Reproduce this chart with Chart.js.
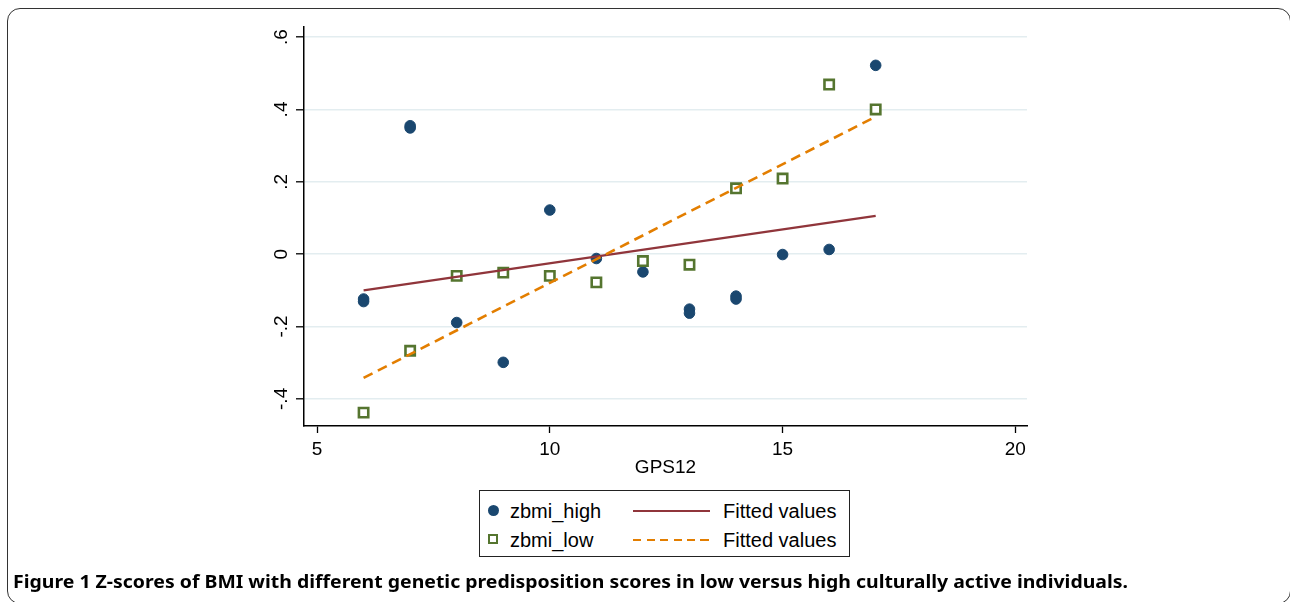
<!DOCTYPE html>
<html>
<head>
<meta charset="utf-8">
<title>Z-scores of BMI by GPS12</title>
<script src="https://cdn.jsdelivr.net/npm/chart.js@4.4.1/dist/chart.umd.min.js"></script>
<style>
    html, body { margin: 0; padding: 0; background: #fff; }
    body { width: 1290px; height: 602px; position: relative; overflow: hidden; font-family: "Liberation Sans", Arial, sans-serif; }
    #frame { position: absolute; left: 7px; top: 8px; width: 1284px; height: 596px; border: 1.5px solid #333; border-radius: 13px; box-sizing: border-box; }
    #wrap { position: absolute; left: 0; top: 0; width: 1290px; height: 602px; }
    #legend { position: absolute; left: 479px; top: 490px; width: 371px; height: 67px; border: 1.5px solid #222; box-sizing: border-box; background: #fff; }
    .item { position: absolute; font-size: 20px; color: #000; line-height: 20px; white-space: nowrap; }
    .mk { position: absolute; }
    #caption { position: absolute; left: 13px; top: 570px; font-family: "Noto Sans", "Open Sans", sans-serif; font-weight: bold; font-size: 17.5px; line-height: 22px; color: #000; white-space: nowrap; transform-origin: 0 0; }
</style>
</head>
<body>
<div id="frame"></div>
<div id="wrap"><canvas id="chart" width="1290" height="602"></canvas></div>
<div id="legend"></div>
<div id="caption"><span>Figure 1</span> Z-scores of BMI with different genetic predisposition scores in low versus high culturally active individuals.</div>

<script>
// ---- data ----
const highX = [6, 6, 7, 7, 8, 9, 10, 11, 12, 13, 13, 14, 14, 15, 16, 17];
const highY = [-0.124, -0.131, 0.355, 0.349, -0.189, -0.299, 0.122, -0.012, -0.049, -0.152, -0.163, -0.116, -0.124, -0.001, 0.013, 0.522];

const lowX = [6, 7, 8, 9, 10, 11, 12, 13, 14, 15, 16, 17];
const lowY = [-0.438, -0.267, -0.060, -0.051, -0.060, -0.078, -0.019, -0.029, 0.182, 0.209, 0.469, 0.400];

// fitted lines (end points)
const fitHighX = [6, 17];
const fitHighY = [-0.100, 0.106];
const fitLowX = [6, 17];
const fitLowY = [-0.342, 0.380];

const xTicks = [5, 10, 15, 20];
const yTicks = [-0.4, -0.2, 0, 0.2, 0.4, 0.6];
const yTickLabels = ['-.4', '-.2', '0', '.2', '.4', '.6'];

const NAVY = '#1a476f';
const MAROON = '#90353b';
const GREEN = '#55752f';
const ORANGE = '#e37e00';
const FONT = '"Liberation Sans", Arial, sans-serif';

function pts(xs, ys) {
    return xs.map((x, i) => ({ x: x, y: ys[i] }));
}

// rotated y tick labels, like Stata draws them
const yLabelsPlugin = {
    id: 'yLabels',
    afterDraw(chart) {
        const ctx = chart.ctx;
        const y = chart.scales.y;
        ctx.save();
        ctx.fillStyle = '#000';
        ctx.font = '19px ' + FONT;
        ctx.textAlign = 'center';
        ctx.textBaseline = 'alphabetic';
        yTicks.forEach((v, i) => {
            const py = y.getPixelForValue(v);
            ctx.save();
            ctx.translate(y.left + 43, py);
            ctx.rotate(-Math.PI / 2);
            ctx.fillText(yTickLabels[i], 0, 0);
            ctx.restore();
        });
        ctx.restore();
    }
};

new Chart(document.getElementById('chart'), {
    type: 'scatter',
    data: {
        datasets: [
            {
                label: 'zbmi_high', data: pts(highX, highY), order: 3,
                pointStyle: 'circle', pointRadius: 5.3, pointHoverRadius: 5.3,
                backgroundColor: NAVY, borderColor: NAVY, borderWidth: 1
            },
            {
                type: 'line', label: 'Fitted values', data: pts(fitHighX, fitHighY), order: 1,
                borderColor: MAROON, borderWidth: 2.2, pointRadius: 0, fill: false, tension: 0
            },
            {
                label: 'zbmi_low', data: pts(lowX, lowY), order: 2,
                pointStyle: 'rect', pointRadius: 6.6, pointHoverRadius: 6.6,
                backgroundColor: '#fff', borderColor: GREEN, borderWidth: 2.6
            },
            {
                type: 'line', label: 'Fitted values', data: pts(fitLowX, fitLowY), order: 0,
                borderColor: ORANGE, borderWidth: 2.6, borderDash: [10, 6], pointRadius: 0, fill: false, tension: 0
            }
        ]
    },
    options: {
        responsive: false,
        animation: false,
        events: [],
        layout: { padding: { left: 244, top: 27, right: 263, bottom: 116 } },
        plugins: { legend: { display: false }, tooltip: { enabled: false }, title: { display: false } },
        scales: {
            x: {
                type: 'linear', min: 4.72, max: 20.25,
                afterBuildTicks: s => { s.ticks = xTicks.map(v => ({ value: v })); },
                afterFit: s => { s.height = 60; },
                grid: { drawOnChartArea: false, drawTicks: true, tickLength: 7, tickColor: '#000', tickWidth: 1.3 },
                border: { color: '#000', width: 1.5 },
                ticks: { color: '#000', font: { size: 19, family: FONT }, padding: 5, maxRotation: 0 },
                title: { display: true, text: 'GPS12', color: '#000', font: { size: 19, family: FONT }, padding: { top: 0, bottom: 7 } }
            },
            y: {
                type: 'linear', min: -0.475, max: 0.628,
                afterBuildTicks: s => { s.ticks = yTicks.map(v => ({ value: v })); },
                afterFit: s => { s.width = 60; },
                grid: { color: '#e3edf0', lineWidth: 1.6, drawTicks: true, tickLength: 8, tickColor: '#000', tickWidth: 1.3 },
                border: { color: '#000', width: 1.5 },
                ticks: { display: false }
            }
        }
    },
    plugins: [yLabelsPlugin]
});

// legend (HTML, placed like the Stata legend box)
const legend = document.getElementById('legend');
legend.innerHTML = `
    <div class="mk" style="left:8px;top:14px;width:11px;height:11px;border-radius:50%;background:${NAVY};"></div>
    <div class="item" style="left:30px;top:10px;">zbmi_high</div>
    <div class="mk" style="left:153px;top:18.5px;width:77px;height:2.2px;background:${MAROON};"></div>
    <div class="item" style="left:243px;top:10px;">Fitted values</div>
    <div class="mk" style="left:8px;top:43px;width:10px;height:10px;box-sizing:border-box;border:2.5px solid ${GREEN};background:#fff;"></div>
    <div class="item" style="left:30px;top:39px;">zbmi_low</div>
    <div class="mk" style="left:153px;top:47.5px;width:77px;height:2.5px;background:repeating-linear-gradient(90deg, ${ORANGE} 0 8px, transparent 8px 13.5px);"></div>
    <div class="item" style="left:243px;top:39px;">Fitted values</div>
`;

// fit caption to the width it has in the figure
const cap = document.getElementById('caption');
const w = cap.getBoundingClientRect().width;
cap.style.transform = 'scaleX(' + (1115 / w) + ')';
</script>
</body>
</html>
